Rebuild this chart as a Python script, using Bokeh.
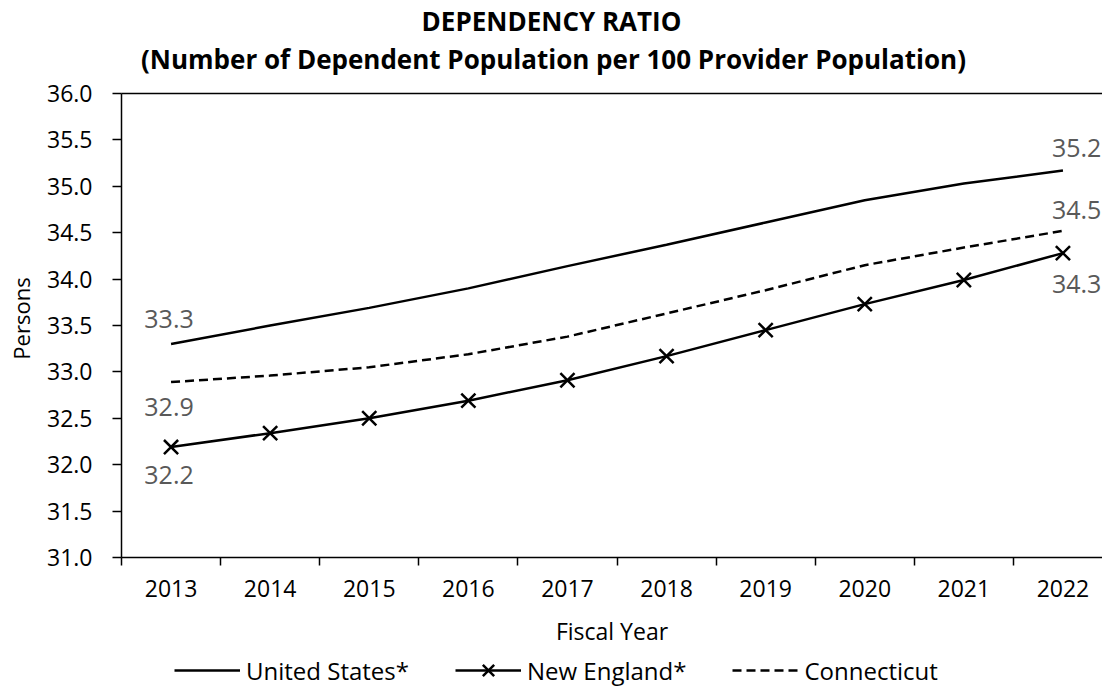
import math
from bokeh.plotting import figure
from bokeh.models import (Range1d, FixedTicker, NumeralTickFormatter, Label,
                          Legend, LegendItem, ColumnDataSource, LinearAxis)
from bokeh.core.properties import value
from bokeh.embed import file_html
from bokeh.resources import INLINE

# Dependency ratio: dependents per 100 providers, fiscal years 2013-2022
years = [2013, 2014, 2015, 2016, 2017, 2018, 2019, 2020, 2021, 2022]
united_states = [33.30, 33.50, 33.69, 33.90, 34.14, 34.37, 34.61, 34.85, 35.03, 35.17]
new_england = [32.19, 32.34, 32.50, 32.69, 32.91, 33.17, 33.45, 33.73, 33.99, 34.28]
connecticut = [32.89, 32.96, 33.05, 33.19, 33.38, 33.63, 33.88, 34.15, 34.34, 34.52]
y_ticks = [31.0, 31.5, 32.0, 32.5, 33.0, 33.5, 34.0, 34.5, 35.0, 35.5, 36.0]
Y_MIN, Y_MAX = 31.0, 36.0
X_MIN, X_MAX = years[0] - 0.5, years[-1] + 0.5

FONT = "Open Sans"
W, H = 1102, 688
TOP, LEFT = 93, 121          # where the 36.0 line and the vertical axis sit
PLOT_H, CAT_W = 464, 99.1    # pixel height of the 31..36 band, width of one year

# the frame fills the whole canvas; axes are pinned inside it
px_y = PLOT_H / (Y_MAX - Y_MIN)
y_range = Range1d(Y_MIN - (H - TOP - PLOT_H) / px_y, Y_MAX + TOP / px_y)
x_range = Range1d(X_MIN - LEFT / CAT_W, X_MIN + (W - LEFT) / CAT_W)

p = figure(width=W, height=H, output_backend="svg", toolbar_location=None,
           x_range=x_range, y_range=y_range, x_axis_location=None, y_axis_location=None,
           min_border_left=0, min_border_right=0, min_border_top=0, min_border_bottom=0)
p.background_fill_color = "white"
p.border_fill_color = "white"
p.outline_line_color = None
p.xgrid.visible = False
p.ygrid.visible = False

# title lines
title_style = dict(x_units="screen", y_units="screen", text_font=FONT, text_font_size="26px",
                   text_font_style="bold", text_color="black",
                   text_align="center", text_baseline="middle")
p.add_layout(Label(x=551, y=H - 20, text="DEPENDENCY RATIO", **title_style))
p.add_layout(Label(x=553, y=H - 58,
                   text="(Number of Dependent Population per 100 Provider Population)",
                   **title_style))

# x axis pinned at 31.0: year labels at centres, tick marks at category boundaries
xa = LinearAxis(fixed_location=Y_MIN, bounds=(X_MIN, X_MAX))
xa.ticker = FixedTicker(ticks=years, minor_ticks=[y - 0.5 for y in years] + [X_MAX])
xa.formatter = NumeralTickFormatter(format="0")
xa.major_tick_line_color = None
xa.minor_tick_in = 0
xa.minor_tick_out = 8
xa.minor_tick_line_color = "black"
xa.minor_tick_line_width = 1.5
xa.axis_line_color = "black"
xa.axis_line_width = 1.5
xa.major_label_text_font = FONT
xa.major_label_text_font_size = "23px"
xa.major_label_text_color = "black"
xa.major_label_standoff = 14
xa.axis_label = "Fiscal Year"
xa.axis_label_text_font = FONT
xa.axis_label_text_font_size = "23px"
xa.axis_label_text_font_style = "normal"
xa.axis_label_text_color = "black"
xa.axis_label_standoff = 15
p.add_layout(xa, "below")

# top border of the plotting area
top_line = LinearAxis(fixed_location=Y_MAX, bounds=(X_MIN, X_MAX))
top_line.ticker = FixedTicker(ticks=[])
top_line.major_tick_line_color = None
top_line.minor_tick_line_color = None
top_line.major_label_text_color = None
top_line.axis_line_color = "black"
top_line.axis_line_width = 1.5
p.add_layout(top_line, "above")

# y axis pinned at the left category boundary
ya = LinearAxis(fixed_location=X_MIN, bounds=(Y_MIN, Y_MAX))
ya.ticker = FixedTicker(ticks=y_ticks)
ya.formatter = NumeralTickFormatter(format="0.0")
ya.major_tick_in = 0
ya.major_tick_out = 9
ya.major_tick_line_color = "black"
ya.major_tick_line_width = 1.5
ya.minor_tick_line_color = None
ya.axis_line_color = "black"
ya.axis_line_width = 1.5
ya.major_label_text_font = FONT
ya.major_label_text_font_size = "23px"
ya.major_label_text_color = "black"
ya.major_label_standoff = 20
p.add_layout(ya, "left")

p.add_layout(Label(x=20, y=H - 318, text="Persons", angle=math.pi / 2,
                   x_units="screen", y_units="screen", text_font=FONT,
                   text_font_size="22px", text_color="black",
                   text_align="center", text_baseline="middle"))

us_line = p.line(years, united_states, line_color="black", line_width=2.5)
ne_line = p.line(years, new_england, line_color="black", line_width=2.5)
ne_mark = p.scatter(years, new_england, marker="x", size=20, line_color="black", line_width=2.5)
ct_line = p.line(years, connecticut, line_color="black", line_width=2.5, line_dash="9 5")

# end-point value labels
def end_labels(series, first_dy, last_dy):
    src = ColumnDataSource(dict(
        x=[years[0]], y=[series[0]], t=[f"{series[0]:.1f}"]))
    p.text("x", "y", text="t", source=src, x_offset=-2, y_offset=first_dy,
           text_align="center", text_baseline="middle", text_font=value(FONT),
           text_font_size="25px", text_color="#595959")
    src2 = ColumnDataSource(dict(
        x=[years[-1]], y=[series[-1]], t=[f"{series[-1]:.1f}"]))
    p.text("x", "y", text="t", source=src2, x_offset=-11, y_offset=last_dy,
           text_align="left", text_baseline="middle", text_font=value(FONT),
           text_font_size="25px", text_color="#595959")

end_labels(united_states, -25, -23)
end_labels(connecticut, 25, -21)
end_labels(new_england, 28, 31)

legend = Legend(items=[
    LegendItem(label="United States*", renderers=[us_line]),
    LegendItem(label="New England*", renderers=[ne_line, ne_mark]),
    LegendItem(label="Connecticut", renderers=[ct_line]),
], orientation="horizontal", location=(LEFT + 53, -2),
    label_text_font=FONT, label_text_font_size="24px", label_text_color="black",
    glyph_width=66, glyph_height=40, label_standoff=6, spacing=46,
    border_line_color=None, background_fill_alpha=0, padding=0, margin=0)
p.add_layout(legend)

open("out.html", "w").write(file_html(p, INLINE))
